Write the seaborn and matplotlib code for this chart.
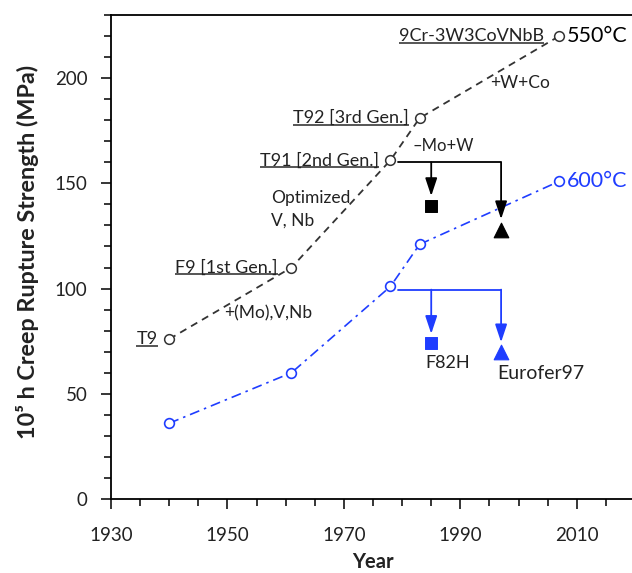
import matplotlib
matplotlib.use("Agg")
import matplotlib.pyplot as plt
from matplotlib.ticker import FixedLocator, MultipleLocator
import seaborn as sns
import pandas as pd

# Creep rupture strength (10^5 h) of 9Cr ferritic/martensitic steels
years_550 = [1940, 1961, 1978, 1983, 2007]
strength_550 = [76, 110, 161, 181, 220]
names_550 = ["T9", "F9 [1st Gen.]", "T91 [2nd Gen.]", "T92 [3rd Gen.]", "9Cr-3W3CoVNbB"]

years_600 = [1940, 1961, 1978, 1983, 2007]
strength_600 = [36, 60, 101, 121, 151]

# Reduced-activation steels derived from T91
rafm_names = ["F82H", "Eurofer97"]
rafm_years = [1985, 1997]
rafm_550 = [139, 128]
rafm_600 = [74, 70]

step_notes = ["+(Mo),V,Nb", "Optimized\nV, Nb", "\u2013Mo+W", "+W+Co"]
x_ticks = [1930, 1950, 1970, 1990, 2010]

BLUE = "#1f3dff"
DARK = "#333333"
TXT = "#222222"

sns.set_theme(style="ticks")
plt.rcParams["font.family"] = ["Lato", "DejaVu Sans"]

fig = plt.figure(figsize=(6.32, 5.73), dpi=100)
ax = fig.add_axes([111 / 632, 74 / 573, 524 / 632, 484 / 573])

df550 = pd.DataFrame({"year": years_550, "mpa": strength_550})
df600 = pd.DataFrame({"year": years_600, "mpa": strength_600})

sns.lineplot(data=df550, x="year", y="mpa", ax=ax, color=DARK, lw=1.3,
             linestyle=(0, (4, 3)), marker="o", markersize=7,
             markerfacecolor="white", markeredgecolor=DARK, markeredgewidth=1.1)
sns.lineplot(data=df600, x="year", y="mpa", ax=ax, color=BLUE, lw=1.2,
             linestyle=(0, (6, 3, 1.5, 3)), marker="o", markersize=7,
             markerfacecolor="white", markeredgecolor=BLUE, markeredgewidth=1.2)

# RAFM steels: squares and triangles
sns.scatterplot(x=[rafm_years[0]], y=[rafm_550[0]], ax=ax, marker="s", s=75,
                color="black", edgecolor="black", zorder=5)
sns.scatterplot(x=[rafm_years[1]], y=[rafm_550[1]], ax=ax, marker="^", s=110,
                color="black", edgecolor="black", zorder=5)
sns.scatterplot(x=[rafm_years[0]], y=[rafm_600[0]], ax=ax, marker="s", s=75,
                color=BLUE, edgecolor=BLUE, zorder=5)
sns.scatterplot(x=[rafm_years[1]], y=[rafm_600[1]], ax=ax, marker="^", s=110,
                color=BLUE, edgecolor=BLUE, zorder=5)

# Branch connectors from T91 to the RAFM steels
def branch(x0, y0, tips_y, color):
    ax.plot([x0 + 1.3, rafm_years[1]], [y0, y0], color=color, lw=1.3, zorder=3)
    for xr, yt in zip(rafm_years, tips_y):
        ax.annotate("", xy=(xr, yt), xytext=(xr, y0),
                    arrowprops=dict(arrowstyle="-|>,head_length=0.9,head_width=0.3",
                                    color=color, lw=1.3, shrinkA=0, shrinkB=0,
                                    mutation_scale=12), zorder=3)

branch(years_550[2], strength_550[2] - 1, [r + 5 for r in rafm_550], "black")
branch(years_600[2], strength_600[2] - 1.5, [r + 4.5 for r in rafm_600], BLUE)

ax.set_xlim(1930, 2020)
ax.set_ylim(0, 230)
ax.xaxis.set_major_locator(FixedLocator(x_ticks))
ax.xaxis.set_minor_locator(MultipleLocator(5))
ax.yaxis.set_major_locator(MultipleLocator(50))
ax.yaxis.set_minor_locator(MultipleLocator(10))
ax.tick_params(which="both", direction="out", color="black", width=1.1)
ax.tick_params(which="major", length=7, labelsize=13.5, labelcolor=TXT)
ax.tick_params(axis="x", which="major", pad=13)
ax.tick_params(axis="y", which="major", pad=10)
ax.tick_params(which="minor", length=5)
for side in ("left", "bottom", "top"):
    ax.spines[side].set_color("black")
    ax.spines[side].set_linewidth(1.3)
ax.spines["right"].set_visible(False)

ax.set_xlabel("Year", fontsize=14.5, fontweight="bold", labelpad=6, color=TXT)
ax.set_ylabel("10\u2075 h Creep Rupture Strength (MPa)", fontsize=16.8,
              fontweight="bold", labelpad=11, color=TXT)
ax.yaxis.label.set_y(0.51)

# Steel names (underlined), placed left of each 550 °C point
label_dx = [-2.0, -2.4, -1.9, -1.9, -2.7]
name_texts = []
for name, x, y, dx in zip(names_550, years_550, strength_550, label_dx):
    t = ax.text(x + dx, y, name, ha="right", va="center", fontsize=13, color=TXT)
    name_texts.append(t)

ax.text(years_550[-1] + 1.2, strength_550[-1], "550\u00b0C", ha="left", va="center",
        fontsize=15.5, color="black")
ax.text(years_600[-1] + 1.3, strength_600[-1], "600\u00b0C", ha="left", va="center",
        fontsize=15.5, color=BLUE)

ax.text(1949.4, 88, step_notes[0], ha="left", va="center", fontsize=12.5, color=TXT)
ax.text(1957.5, 137.5, step_notes[1], ha="left", va="center", fontsize=12.5,
        color=TXT, linespacing=1.5)
ax.text(1981.7, 167.8, step_notes[2], ha="left", va="center", fontsize=12, color=TXT)
ax.text(1995.1, 197.6, step_notes[3], ha="left", va="center", fontsize=12.5, color=TXT)

ax.text(1984.0, 64.5, rafm_names[0], ha="left", va="center", fontsize=13, color=TXT)
ax.text(1996.3, 59.7, rafm_names[1], ha="left", va="center", fontsize=14, color=TXT)

# Underline the steel names
fig.canvas.draw()
renderer = fig.canvas.get_renderer()
inv = ax.transData.inverted()
for t in name_texts:
    bb = t.get_window_extent(renderer)
    (x0, y0), (x1, _) = inv.transform([(bb.x0, bb.y0 + 1.5), (bb.x1, bb.y0)])
    ax.plot([x0, x1], [y0, y0], color="#555555", lw=1.4, solid_capstyle="butt",
            zorder=2)

fig.savefig("out.png", dpi=100)
